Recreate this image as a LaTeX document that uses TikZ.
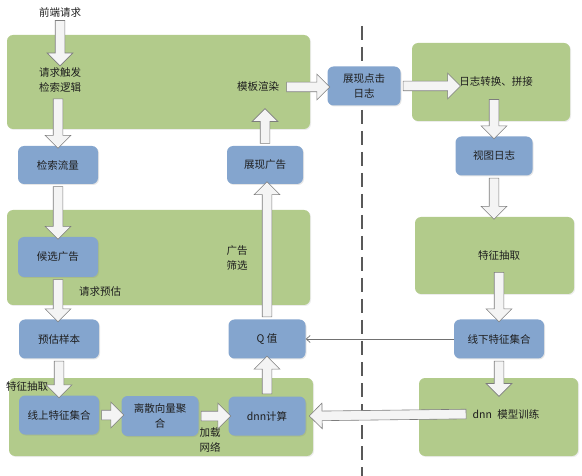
\documentclass[tikz,border=0pt]{standalone}
\usepackage{fontspec}
\setmainfont{Noto Sans CJK SC}
\usetikzlibrary{shapes.arrows,calc,shadows,arrows.meta}
\definecolor{gfill}{RGB}{178,203,139}
\definecolor{bfill}{RGB}{132,165,206}
\definecolor{txt}{RGB}{30,30,30}
\definecolor{aline}{RGB}{125,125,125}
\definecolor{afill}{RGB}{244,244,244}
\tikzset{
  gboxs/.style={rectangle, rounded corners=6pt, fill=gfill, draw=none, inner sep=0pt,
    drop shadow={opacity=0.15, shadow xshift=1pt, shadow yshift=-1pt}},
  bboxs/.style={rectangle, rounded corners=6pt, fill=bfill, draw=none, inner sep=1pt, align=center,
    drop shadow={opacity=0.2, shadow xshift=1pt, shadow yshift=-1pt}},
  lbl/.style={inner sep=1pt, align=center},
  blockarrow/.style={single arrow, draw=aline, line width=0.6pt, fill=afill,
    inner xsep=0pt, inner ysep=4.5pt, outer sep=0pt, minimum width=1pt,
    single arrow head extend=8pt, single arrow head indent=0pt},
  thinarrow/.style={draw=aline!90!black, line width=0.7pt, -{Straight Barb[length=4pt,width=7pt]}},
  dashline/.style={draw=black!65, line width=1.5pt, dash pattern=on 14pt off 7pt}
}
\newcommand\barrow[2]{\path let \p1=#1, \p2=#2, \n1={veclen(\x2-\x1,\y2-\y1)}, \n2={atan2(\y2-\y1,\x2-\x1)} in node[blockarrow, minimum height=\n1, rotate=\n2] at ({(\x1+\x2)/2},{(\y1+\y2)/2}) {};}
\begin{document}
\begin{tikzpicture}[x=1pt, y=-1pt, font=\fontsize{10.5}{15}\selectfont, text=txt]
\useasboundingbox (0,0) rectangle (582,476);
% green containers
\node[gboxs, minimum width=303, minimum height=94] (g1) at (158.5,82) {};
\node[gboxs, minimum width=303, minimum height=95] (g2) at (158.5,257.5) {};
\node[gboxs, minimum width=304, minimum height=78] (g3) at (161,417) {};
\node[gboxs, minimum width=158, minimum height=78] (g4) at (491,82) {};
\node[gboxs, minimum width=159, minimum height=77] (g5) at (494.5,255.5) {};
\node[gboxs, minimum width=159, minimum height=78] (g6) at (498.5,417) {};
% dashed separator
\coordinate (dtop) at (362,26);
\coordinate (dbot) at (362,476);
\draw[dashline] (dtop) -- (dbot);
% blue boxes
\node[bboxs, minimum width=80, minimum height=38] (jiansuo) at (58,165) {检索流量};
\node[bboxs, minimum width=76, minimum height=38] (zhanxian) at (265,165) {展现广告};
\node[bboxs, minimum width=80, minimum height=40] (houxuan) at (58,257) {候选广告};
\node[bboxs, minimum width=80, minimum height=39] (yugu) at (59,339) {预估样本};
\node[bboxs, minimum width=77, minimum height=39] (qval) at (267,339) {Q 值};
\node[bboxs, minimum width=80, minimum height=39] (xianshang) at (59,415) {线上特征集合};
\node[bboxs, minimum width=77, minimum height=40] (lisan) at (160,416) {离散向量聚\\合};
\node[bboxs, minimum width=77, minimum height=39] (dnn) at (267,416) {dnn计算};
\node[bboxs, minimum width=73, minimum height=39] (zxdj) at (364,86) {展现点击\\日志};
\node[bboxs, minimum width=77, minimum height=39] (shitu) at (494,156) {视图日志};
\node[bboxs, minimum width=90, minimum height=39] (xianxia) at (499,339) {线下特征集合};
% labels
\node[lbl] (qianduan) at (60,12) {前端请求};
\node[lbl] (qingqiu) at (60,80) {请求触发\\检索逻辑};
\node[lbl] (muban) at (258,87) {模板渲染};
\node[lbl] (guanggao) at (237,258) {广告\\筛选};
\node[lbl] (qqyugu) at (100,292) {请求预估};
\node[lbl] (tezheng1) at (27,387) {特征抽取};
\node[lbl] (jiazai) at (210,440) {加载\\网络};
\node[lbl] (rizhi) at (496,82) {日志转换、拼接};
\node[lbl] (tezheng2) at (499,256) {特征抽取};
\node[lbl] (dnnxl) at (506,414) {dnn\hspace{3pt} 模型训练};
% block arrows
\coordinate (mubanout) at ($(muban.east)+(4,0)$);
\coordinate (zxdjin) at (mubanout -| zxdj.west);
\coordinate (qqtop) at ($(qingqiu.north)+(0,-3)$);
\coordinate (qqbot) at (qingqiu.south -| jiansuo.north);
\coordinate (qqbot2) at ($(qqbot)+(0,3)$);
\coordinate (mubanbot) at (zhanxian.north |- muban.south);
\coordinate (mubanbot2) at ($(mubanbot)+(0,18)$);
\coordinate (rzbot) at (rizhi.south -| shitu.north);
\coordinate (rzbot2) at ($(rzbot)+(0,9)$);
\coordinate (tzbot) at (xianxia.north |- tezheng2.south);
\coordinate (tzbot2) at ($(tzbot)+(0,8)$);
\coordinate (xltop) at (xianxia.south |- dnnxl.north);
\coordinate (xltop2) at ($(xltop)+(0,-14)$);
\coordinate (xlwest) at ($(dnnxl.west)+(-3,0)$);
\coordinate (dnnin) at ($(dnn.east)+(6,0)$);
\barrow{(qianduan.south)}{(qqtop)}
\barrow{(qqbot2)}{(jiansuo.north)}
\barrow{(jiansuo.south)}{(houxuan.north)}
\barrow{(houxuan.south)}{(houxuan.south |- yugu.north)}
\barrow{(yugu.south)}{(xianshang.north)}
\barrow{(xianshang.east)}{(xianshang.east -| lisan.west)}
\barrow{(lisan.east)}{(lisan.east -| dnn.west)}
\barrow{(dnn.north)}{(qval.south)}
\barrow{(qval.north)}{(qval.north |- zhanxian.south)}
\barrow{(zhanxian.north)}{(mubanbot2)}
\barrow{(mubanout)}{(zxdjin)}
\barrow{(zxdj.east)}{(zxdj.east -| rizhi.west)}
\barrow{(rzbot2)}{(shitu.north)}
\barrow{(shitu.south)}{(shitu.south |- g5.north)}
\barrow{(tzbot2)}{(xianxia.north)}
\barrow{(xianxia.south)}{(xltop2)}
\barrow{(xlwest)}{(dnnin)}
% thin arrow
\draw[thinarrow] (xianxia.west) -- (xianxia.west -| qval.east);
\end{tikzpicture}
\end{document}
